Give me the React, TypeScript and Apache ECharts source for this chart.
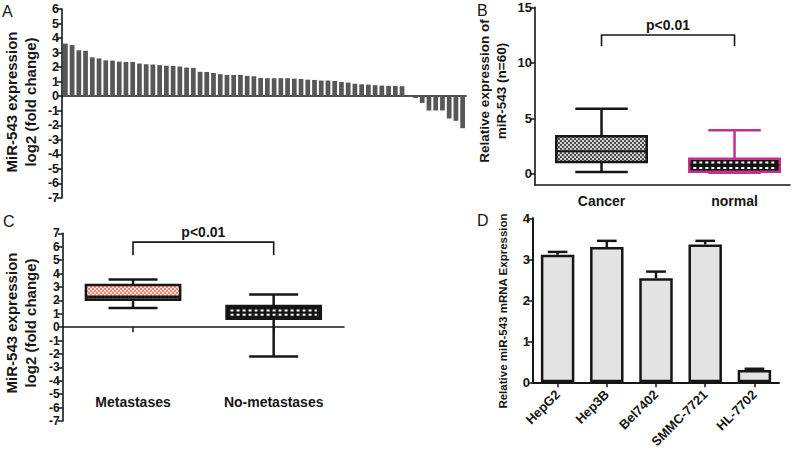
import React, { useEffect, useRef } from 'react';
import * as echarts from 'echarts';

const FONT = '"Liberation Sans", Arial, Helvetica, sans-serif';
const INK = '#161616';
const MAGENTA = '#c4308a';

// ---------- Panel A: per-sample log2 fold change (n = 60) ----------
const aValues = [
  3.62, 3.52, 3.16, 3.13, 2.68, 2.6, 2.47, 2.45, 2.38, 2.36,
  2.36, 2.25, 2.2, 2.18, 2.14, 2.1, 2.08, 2.04, 1.97, 1.95,
  1.68, 1.67, 1.6, 1.52, 1.46, 1.46, 1.47, 1.4, 1.37, 1.26,
  1.24, 1.24, 1.24, 1.24, 1.21, 1.19, 1.14, 1.12, 1.08, 1.08,
  1.05, 0.98, 0.94, 0.86, 0.82, 0.8, 0.76, 0.73, 0.71, 0.71,
  0.69, -0.03, -0.12, -0.46, -0.98, -0.98, -0.98, -1.53, -1.69, -2.2,
];
const aSampleIds = aValues.map((_, i) => `S${i + 1}`);

// ---------- Panel B: box plots [min, Q1, median, Q3, max] ----------
const bCategories = ['Cancer', 'normal'];
const bBoxes = [
  [0.18, 1.08, 2.03, 3.38, 5.87],
  [0.1, 0.2, 0.8, 1.37, 3.92],
];
const bTickValues = [0, 5, 10, 15];
const bBracket = [0, 1, 12.5, 11.5]; // from cat, to cat, top value, leg end value

// ---------- Panel C ----------
const cCategories = ['Metastases', 'No-metastases'];
const cBoxes = [
  [1.42, 2.05, 2.25, 3.15, 3.56],
  [-2.19, 0.63, 1.1, 1.57, 2.44],
];
const cBracket = [0, 1, 6.34, 5.37];

const pLabel = 'p<0.01';

// ---------- Panel D ----------
const dCategories = ['HepG2', 'Hep3B', 'Bel7402', 'SMMC-7721', 'HL-7702'];
const dValues = [3.11, 3.3, 2.54, 3.36, 0.3];
const dUpper = [3.18, 3.45, 2.7, 3.45, 0.33];

function checker(c1: string, c2: string, size: number) {
  const cv = document.createElement('canvas');
  cv.width = size * 2;
  cv.height = size * 2;
  const ctx = cv.getContext('2d')!;
  ctx.fillStyle = c1;
  ctx.fillRect(0, 0, size * 2, size * 2);
  ctx.fillStyle = c2;
  ctx.fillRect(0, 0, size, size);
  ctx.fillRect(size, size, size, size);
  return { image: cv, repeat: 'repeat' };
}

type BoxStyle = {
  stroke: string;
  whisker: string;
  fill: any;
  median: string;
  medianWidth: number;
  lineWidth: number;
  dashes: number[] | null;
};

function makeBoxRender(styles: BoxStyle[], boxRatio: number, capRatio: number) {
  return (params: any, api: any) => {
    const s = styles[params.dataIndex];
    const x = api.value(0);
    const ys = [1, 2, 3, 4, 5].map((k) => api.coord([x, api.value(k)])[1]);
    const cx = api.coord([x, 0])[0];
    const band = api.size([1, 0])[0];
    const bw = band * boxRatio;
    const cw = bw * capRatio;
    const [pMin, pQ1, pMed, pQ3, pMax] = ys;
    const ls = { stroke: s.whisker, lineWidth: s.lineWidth, fill: null };
    const children: any[] = [
      { type: 'line', shape: { x1: cx, y1: pQ3, x2: cx, y2: pMax }, style: ls },
      { type: 'line', shape: { x1: cx - cw / 2, y1: pMax, x2: cx + cw / 2, y2: pMax }, style: ls },
      { type: 'line', shape: { x1: cx, y1: pQ1, x2: cx, y2: pMin }, style: ls },
      { type: 'line', shape: { x1: cx - cw / 2, y1: pMin, x2: cx + cw / 2, y2: pMin }, style: ls },
      {
        type: 'rect',
        shape: { x: cx - bw / 2, y: pQ3, width: bw, height: pQ1 - pQ3 },
        style: { fill: s.fill, stroke: s.stroke, lineWidth: s.lineWidth },
      },
      {
        type: 'line',
        shape: { x1: cx - bw / 2, y1: pMed, x2: cx + bw / 2, y2: pMed },
        style: { stroke: s.median, lineWidth: s.medianWidth },
      },
    ];
    if (s.dashes) {
      s.dashes.forEach((f) => {
        const yy = pQ3 + (pQ1 - pQ3) * f;
        children.push({
          type: 'line',
          shape: { x1: cx - bw / 2 + 4, y1: yy, x2: cx + bw / 2 - 4, y2: yy },
          style: { stroke: '#ffffff', lineWidth: 2, lineDash: [3, 3] },
        });
      });
    }
    return { type: 'group', children };
  };
}

function bracketRender(params: any, api: any) {
  const a = api.coord([api.value(0), api.value(2)]);
  const b = api.coord([api.value(1), api.value(2)]);
  const legY = api.coord([api.value(0), api.value(3)])[1];
  return {
    type: 'group',
    children: [
      {
        type: 'polyline',
        shape: { points: [[a[0], legY], [a[0], a[1]], [b[0], b[1]], [b[0], legY]] },
        style: { stroke: INK, lineWidth: 1.6, fill: null },
      },
      {
        type: 'text',
        x: (a[0] + b[0]) / 2,
        y: a[1] - 3,
        style: {
          text: pLabel,
          fill: INK,
          font: `bold 14px ${FONT}`,
          align: 'center',
          verticalAlign: 'bottom',
          textAlign: 'center',
          textVerticalAlign: 'bottom',
        },
      },
    ],
  };
}

function errRender(params: any, api: any) {
  const i = api.value(0);
  const base = api.coord([i, api.value(1)]);
  const top = api.coord([i, api.value(2)]);
  const half = api.size([1, 0])[0] * 0.2;
  const st = { stroke: INK, lineWidth: 2.5 };
  return {
    type: 'group',
    children: [
      { type: 'line', shape: { x1: top[0], y1: base[1], x2: top[0], y2: top[1] }, style: st },
      { type: 'line', shape: { x1: top[0] - half, y1: top[1], x2: top[0] + half, y2: top[1] }, style: st },
    ],
  };
}

const axisLine = { show: true, onZero: true, lineStyle: { color: INK, width: 1.6 } };
const tickStyle = { show: true, length: 5, lineStyle: { color: INK, width: 1.5 } };
const yLabel = (size: number) => ({
  color: INK,
  fontFamily: FONT,
  fontWeight: 'bold' as const,
  fontSize: size,
  margin: 3,
});

function titleText(x: number, y: number, text: string, size: number, lh: number) {
  return {
    type: 'text',
    x,
    y,
    rotation: Math.PI / 2,
    style: {
      text,
      fill: INK,
      font: `bold ${size}px ${FONT}`,
      lineHeight: lh,
      align: 'center',
      verticalAlign: 'middle',
      textAlign: 'center',
      textVerticalAlign: 'middle',
    },
  };
}

function letter(x: number, y: number, text: string) {
  return {
    type: 'text',
    x,
    y,
    style: { text, fill: INK, font: `16px ${FONT}`, align: 'left', verticalAlign: 'top', textAlign: 'left', textVerticalAlign: 'top' },
  };
}

export default function App() {
  const ref = useRef<HTMLDivElement>(null);
  useEffect(() => {
    if (!ref.current) return;
    const chart = echarts.init(ref.current, undefined, { renderer: 'svg' });

    const grayChecker = checker('#d2d2d2', '#4e4e4e', 2);
    const salmonChecker = checker('#fbd9cf', '#ea8a76', 2);

    const bStyles: BoxStyle[] = [
      { stroke: INK, whisker: INK, fill: grayChecker, median: INK, medianWidth: 2, lineWidth: 2.5, dashes: null },
      { stroke: MAGENTA, whisker: MAGENTA, fill: '#141414', median: '#141414', medianWidth: 1, lineWidth: 2.5, dashes: [0.3, 0.72] },
    ];
    const cStyles: BoxStyle[] = [
      { stroke: INK, whisker: INK, fill: salmonChecker, median: INK, medianWidth: 3, lineWidth: 2.5, dashes: null },
      { stroke: INK, whisker: INK, fill: '#141414', median: '#141414', medianWidth: 1, lineWidth: 2.5, dashes: [0.34, 0.68] },
    ];

    const gridBase = { containLabel: false, outerBoundsMode: 'none' };

    chart.setOption({
      animation: false,
      backgroundColor: '#ffffff',
      textStyle: { fontFamily: FONT },
      grid: [
        { ...gridBase, left: 62, top: 9, width: 404, height: 189 },
        { ...gridBase, left: 535, top: 7.3, width: 255, height: 177.7 },
        { ...gridBase, left: 62.7, top: 233.3, width: 281.3, height: 187.7 },
        { ...gridBase, left: 533, top: 218.3, width: 246, height: 164 },
      ],
      xAxis: [
        {
          gridIndex: 0,
          type: 'category',
          data: aSampleIds,
          axisLine,
          axisTick: { show: false },
          axisLabel: { show: false },
          splitLine: { show: false },
        },
        {
          gridIndex: 1,
          type: 'value',
          min: 0,
          max: 1.917,
          axisLine: { ...axisLine, onZero: false },
          axisTick: { show: false },
          splitLine: { show: false },
          axisLabel: {
            customValues: bCategories.map((_, i) => i + 0.5),
            formatter: (v: number) => bCategories[Math.round(v - 0.5)] ?? '',
            color: INK,
            fontFamily: FONT,
            fontWeight: 'bold',
            fontSize: 14,
            margin: 9,
          },
        },
        {
          gridIndex: 2,
          type: 'category',
          data: cCategories,
          axisLine,
          axisTick: { ...tickStyle, alignWithLabel: true },
          axisLabel: { color: INK, fontFamily: FONT, fontWeight: 'bold', fontSize: 14, margin: -26 },
          splitLine: { show: false },
        },
        {
          gridIndex: 3,
          type: 'category',
          data: dCategories,
          axisLine: { ...axisLine, lineStyle: { color: INK, width: 2 } },
          axisTick: { ...tickStyle, alignWithLabel: true },
          axisLabel: { color: INK, fontFamily: FONT, fontWeight: 'bold', fontSize: 13, rotate: 45, margin: 10, interval: 0 },
          splitLine: { show: false },
        },
      ],
      yAxis: [
        {
          gridIndex: 0,
          type: 'value',
          min: -7,
          max: 6,
          interval: 1,
          axisLine: { ...axisLine, onZero: false },
          axisTick: tickStyle,
          axisLabel: yLabel(12.5),
          splitLine: { show: false },
        },
        {
          gridIndex: 1,
          type: 'value',
          min: -1,
          max: 15,
          axisLine: { ...axisLine, onZero: false },
          axisTick: { ...tickStyle, customValues: bTickValues },
          axisLabel: { ...yLabel(13), customValues: bTickValues },
          splitLine: { show: false },
        },
        {
          gridIndex: 2,
          type: 'value',
          min: -7,
          max: 7,
          interval: 1,
          axisLine: { ...axisLine, onZero: false },
          axisTick: tickStyle,
          axisLabel: yLabel(12),
          splitLine: { show: false },
        },
        {
          gridIndex: 3,
          type: 'value',
          min: 0,
          max: 4,
          interval: 1,
          axisLine: { ...axisLine, onZero: false, lineStyle: { color: INK, width: 2 } },
          axisTick: tickStyle,
          axisLabel: yLabel(13),
          splitLine: { show: false },
        },
      ],
      series: [
        {
          type: 'bar',
          xAxisIndex: 0,
          yAxisIndex: 0,
          data: aValues,
          barWidth: '70%',
          itemStyle: { color: '#575757' },
        },
        {
          type: 'custom',
          xAxisIndex: 1,
          yAxisIndex: 1,
          data: bBoxes.map((b, i) => [i + 0.5, ...b]),
          renderItem: makeBoxRender(bStyles, 0.68, 0.58),
          z: 3,
        },
        {
          type: 'custom',
          xAxisIndex: 1,
          yAxisIndex: 1,
          data: [[bBracket[0] + 0.5, bBracket[1] + 0.5, bBracket[2], bBracket[3]]],
          renderItem: bracketRender,
          z: 3,
        },
        {
          type: 'custom',
          xAxisIndex: 2,
          yAxisIndex: 2,
          data: cBoxes.map((b, i) => [i, ...b]),
          renderItem: makeBoxRender(cStyles, 0.67, 0.52),
          z: 3,
        },
        {
          type: 'custom',
          xAxisIndex: 2,
          yAxisIndex: 2,
          data: [cBracket],
          renderItem: bracketRender,
          z: 3,
        },
        {
          type: 'bar',
          xAxisIndex: 3,
          yAxisIndex: 3,
          data: dValues,
          barWidth: '68%',
          itemStyle: { color: '#e3e3e3', borderColor: INK, borderWidth: 2.5 },
        },
        {
          type: 'custom',
          xAxisIndex: 3,
          yAxisIndex: 3,
          data: dValues.map((v, i) => [i, v, dUpper[i]]),
          renderItem: errRender,
          z: 3,
        },
      ],
      graphic: [
        letter(2, 3, 'A'),
        letter(477, 2, 'B'),
        letter(3, 213, 'C'),
        letter(477, 212, 'D'),
        titleText(21, 102, 'MiR-543 expression\nlog2 (fold change)', 15, 19),
        titleText(493, 91, 'Relative expression of\nmiR-543 (n=60)', 13.5, 17),
        titleText(21, 323, 'MiR-543 expression\nlog2 (fold change)', 15, 19),
        titleText(503, 311, 'Relative miR-543 mRNA Expression', 11.5, 14),
      ],
    });
    return () => chart.dispose();
  }, []);
  return (
    <div
      ref={ref}
      style={{ position: 'fixed', left: 0, top: 0, width: 800, height: 451, background: '#fff' }}
    />
  );
}
